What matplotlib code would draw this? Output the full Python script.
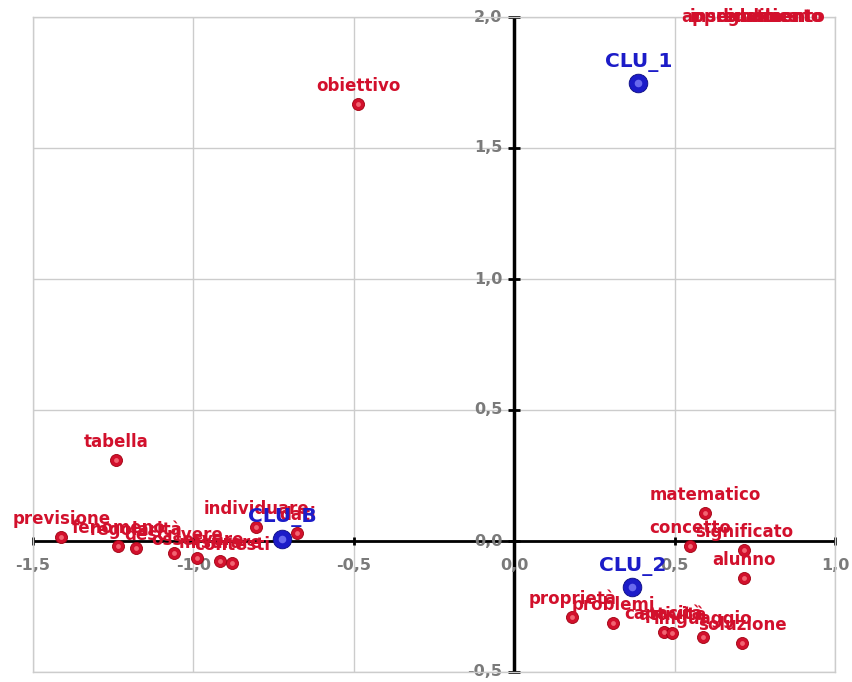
import matplotlib.pyplot as plt

# parole (rosso)
parole = ["obiettivo", "tabella", "previsione", "fenomeno", "regolarità",
          "descrivere", "osservare", "misurare", "contesti", "individuare",
          "dati", "matematico", "concetto", "significato", "alunno",
          "proprietà", "problemi", "capacità", "attività", "linguaggio",
          "soluzione", "apprendimento", "insegnamento", "didattica", "scuola"]
px = [-0.486, -1.241, -1.412, -1.234, -1.178,
      -1.062, -0.988, -0.916, -0.879, -0.804,
      -0.676, 0.595, 0.549, 0.717, 0.717,
      0.181, 0.308, 0.467, 0.492, 0.589,
      0.711, 0.745, 0.755, 0.760, 0.740]
py = [1.668, 0.309, 0.015, -0.019, -0.027,
      -0.046, -0.065, -0.076, -0.084, 0.053,
      0.030, 0.107, -0.019, -0.034, -0.141,
      -0.290, -0.313, -0.347, -0.351, -0.366,
      -0.389, 2.30, 2.25, 2.28, 2.35]

# centroidi dei cluster (blu)
cluster = ["CLU_1", "CLU_2", "CLU_B"]
cx = [0.387, 0.368, -0.723]
cy = [1.748, -0.176, 0.008]

xticks = [-1.5, -1.0, -0.5, 0.0, 0.5, 1.0]
yticks = [-0.5, 0.0, 0.5, 1.0, 1.5, 2.0]
xmin, xmax, ymin, ymax = -1.5, 1.0, -0.5, 2.0

rosso = "#d2102c"
blu = "#1c1cc8"
grigio = "#7a7a7a"

fig = plt.figure(figsize=(8.52, 6.82), dpi=100)
ax = fig.add_axes([33 / 852, 10 / 682, 802 / 852, 655 / 682])
ax.set_xlim(xmin, xmax)
ax.set_ylim(ymin, ymax)
ax.set_xticks([])
ax.set_yticks([])
for s in ax.spines.values():
    s.set_color("#cccccc")
    s.set_linewidth(1)

for t in xticks:
    ax.axvline(t, color="#cccccc", lw=1, zorder=0)
for t in yticks:
    ax.axhline(t, color="#cccccc", lw=1, zorder=0)

# assi centrali
ax.axhline(0, color="black", lw=2, zorder=1)
ax.axvline(0, color="black", lw=2.5, zorder=1)
ax.plot(xticks, [0] * len(xticks), ls="none", marker="|",
        ms=6, mew=2, color="black", zorder=1, clip_on=False)
ax.plot([0] * len(yticks), yticks, ls="none", marker="_",
        ms=9, mew=2, color="black", zorder=1, clip_on=False)

def fmt(v):
    return ("%.1f" % v).replace(".", ",")

for t in xticks:
    ax.annotate(fmt(t), (t, 0), xytext=(0, -25), textcoords="offset pixels",
                ha="center", va="center", fontsize=11.5, fontweight="bold",
                color=grigio, annotation_clip=False, zorder=2)
for t in yticks:
    ax.annotate(fmt(t), (0, t), xytext=(-12, 0), textcoords="offset pixels",
                ha="right", va="center", fontsize=11.5, fontweight="bold",
                color=grigio, annotation_clip=False, zorder=2)

# punti "sferici": base + riflesso
ax.scatter(px, py, s=75, color=rosso, edgecolors="#a00010", linewidths=0.6,
           zorder=3)
ax.scatter(px, py, s=12, color="#ff8a90", alpha=0.7, linewidths=0, zorder=4)
ax.scatter(cx, cy, s=180, color=blu, edgecolors="#0a0a80", linewidths=0.6,
           zorder=5)
ax.scatter(cx, cy, s=30, color="#8a8aff", alpha=0.7, linewidths=0, zorder=6)

for nome, x, y in zip(parole, px, py):
    if y > ymax:
        ax.annotate(nome, (x, ymax), xytext=(0, 0), textcoords="offset pixels",
                    ha="center", va="center", fontsize=12, fontweight="bold",
                    color=rosso, zorder=7)
    else:
        ax.annotate(nome, (x, y), xytext=(0, 18), textcoords="offset pixels",
                    ha="center", va="center", fontsize=12, fontweight="bold",
                    color=rosso, zorder=7)

for nome, x, y in zip(cluster, cx, cy):
    ax.annotate(nome, (x, y), xytext=(0, 21), textcoords="offset pixels",
                ha="center", va="center", fontsize=14.5, fontweight="bold",
                color=blu, zorder=8)

fig.savefig("out.png", dpi=100)
